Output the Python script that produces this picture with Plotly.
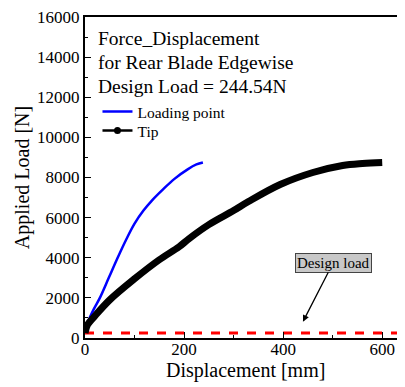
import plotly.graph_objects as go

# Data
loading_disp = [0, 6, 18, 30, 48, 65, 82, 100, 118, 135, 158, 180, 208, 225, 238]
loading_load = [300, 800, 1450, 2000, 3000, 3950, 4850, 5700, 6350, 6850, 7420, 7920, 8420, 8650, 8750]

tip_disp = [0, 5, 20, 50, 100, 150, 190, 210, 250, 300, 330, 394, 460, 520, 560, 600]
tip_load = [250, 650, 1100, 1900, 2950, 3900, 4550, 4950, 5650, 6350, 6800, 7650, 8250, 8600, 8700, 8750]

design_load = 244.54
x_range = [0, 646]
y_range = [0, 16000]
x_ticks = [0, 200, 400, 600]
y_ticks = [0, 2000, 4000, 6000, 8000, 10000, 12000, 14000, 16000]
title_lines = ["Force_Displacement", "for Rear Blade Edgewise", "Design Load = 244.54N"]

FONT = "Liberation Serif"

fig = go.Figure()

# design load dashed line
fig.add_trace(go.Scatter(x=x_range, y=[design_load, design_load], mode="lines",
                         line=dict(color="#ff0000", width=3, dash="dash"),
                         showlegend=False, hoverinfo="skip"))

fig.add_trace(go.Scatter(x=loading_disp, y=loading_load, mode="lines",
                         line=dict(color="#0000ff", width=2.5, shape="spline"),
                         name="Loading point", legend="legend"))

fig.add_trace(go.Scatter(x=tip_disp, y=tip_load, mode="lines",
                         line=dict(color="black", width=7, shape="spline"),
                         showlegend=False))
# legend entry for Tip (line + dot)
fig.add_trace(go.Scatter(x=[None], y=[None], mode="lines+markers",
                         line=dict(color="black", width=2.5),
                         marker=dict(color="black", size=7),
                         name="Tip", legend="legend2"))

leg_common = dict(xanchor="left", yanchor="top", bgcolor="rgba(0,0,0,0)",
                  font=dict(size=15.5, family=FONT, color="black"), itemwidth=30)

# page body has an 8px margin, so the figure is offset by (8, 8)
fig.update_layout(
    width=397, height=379,
    margin=dict(l=77, r=0, t=9, b=49),
    paper_bgcolor="white", plot_bgcolor="white",
    font=dict(family=FONT, color="black"),
    showlegend=True,
    legend=dict(x=0.039, y=0.757, **leg_common),
    legend2=dict(x=0.039, y=0.698, **leg_common),
    xaxis=dict(range=x_range, tickvals=x_ticks, ticktext=[str(v) for v in x_ticks],
               ticks="inside", ticklen=6, tickwidth=1.2, tickcolor="black",
               minor=dict(ticks="inside", ticklen=3, dtick=100, tickcolor="black"),
               showline=True, linecolor="black", linewidth=2, mirror=True,
               showgrid=False, zeroline=False, automargin=False,
               ticklabelstandoff=-5, ticklabeloverflow="allow",
               tickfont=dict(size=17, family=FONT)),
    yaxis=dict(range=y_range, tickvals=y_ticks, ticktext=[str(v) for v in y_ticks],
               ticks="inside", ticklen=6, tickwidth=1.2, tickcolor="black",
               minor=dict(ticks="inside", ticklen=3, dtick=1000, tickcolor="black"),
               showline=True, linecolor="black", linewidth=2, mirror=False,
               showgrid=False, zeroline=False, automargin=False,
               ticklabeloverflow="allow",
               tickfont=dict(size=17, family=FONT),
               title=dict(text="Applied Load [N]", font=dict(size=20, family=FONT), standoff=2)),
)

fig.add_annotation(xref="paper", yref="paper", x=0.5, y=-0.0997, xanchor="center", yanchor="middle",
                   showarrow=False, text="Displacement [mm]",
                   font=dict(size=20, family=FONT, color="black"))

for i, line in enumerate(title_lines):
    fig.add_annotation(xref="paper", yref="paper", x=0.035, y=(338 - 38 - 24 * i) / 321,
                       xanchor="left", yanchor="middle", align="left", showarrow=False,
                       text=line, font=dict(size=19.5, family=FONT, color="black"))

fig.add_annotation(x=440, y=815, ax=501, ay=3750, axref="x", ayref="y",
                   xref="x", yref="y", text="Design load", showarrow=True,
                   arrowhead=2, arrowsize=1, arrowwidth=1.3, arrowcolor="black",
                   bgcolor="#c8c8c8", bordercolor="#444444", borderwidth=1, borderpad=1,
                   font=dict(size=15, family=FONT, color="black"))

fig.write_html("out.html")
